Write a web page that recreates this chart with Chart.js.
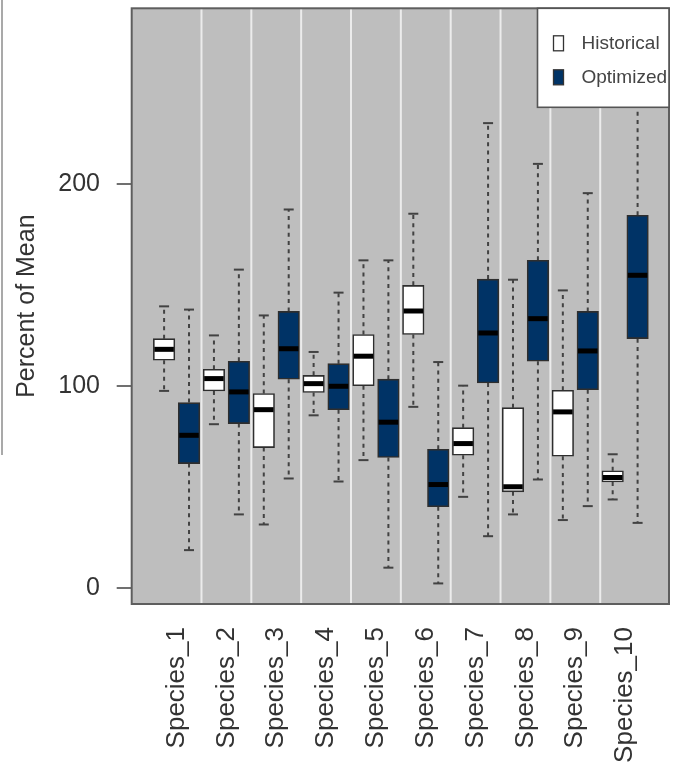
<!DOCTYPE html>
<html>
<head>
<meta charset="utf-8">
<script src="https://cdn.jsdelivr.net/npm/chart.js@4.4.1/dist/chart.umd.min.js"></script>
<style>
  html, body { margin: 0; padding: 0; background: #ffffff; }
  #wrap { position: relative; width: 677px; height: 764px; overflow: hidden; }
  #wrap canvas { position: absolute; left: 0; top: 0; }
  #edge { position: absolute; left: 1px; top: 0; width: 2px; height: 455px; background: #a9a9a9; }
</style>
</head>
<body>
<div id="wrap">
  <canvas id="chart" width="677" height="764"></canvas>
  <div id="edge"></div>
</div>
<script>
// Categories
const species = ['Species_1', 'Species_2', 'Species_3', 'Species_4', 'Species_5',
                 'Species_6', 'Species_7', 'Species_8', 'Species_9', 'Species_10'];

// Historical: whisker ends, quartiles and medians (percent of mean)
const histLow  = [97.7, 81.2, 31.5, 85.6, 63.4, 89.8, 45.2, 36.5, 33.7, 43.9];
const histQ1   = [112.9, 97.7, 69.6, 96.9, 100.3, 125.7, 65.8, 47.7, 65.3, 52.6];
const histMed  = [118.3, 103.8, 88.4, 101.3, 114.9, 137.3, 71.6, 50.2, 87.3, 54.8];
const histQ3   = [123.6, 108.4, 96.4, 105.4, 125.6, 150.0, 79.5, 89.4, 98.0, 58.1];
const histHigh = [139.6, 125.2, 135.1, 117.0, 162.4, 185.5, 100.3, 152.8, 147.5, 66.3];

// Optimized: whisker ends, quartiles and medians (percent of mean)
const optLow  = [18.8, 36.5, 54.3, 52.8, 10.1, 2.3, 25.7, 53.8, 40.6, 32.3];
const optQ1   = [61.7, 81.5, 103.5, 88.4, 64.7, 40.3, 101.6, 112.4, 98.3, 123.6];
const optMed  = [75.7, 97.2, 118.6, 100.0, 82.2, 51.3, 126.4, 133.5, 117.5, 155.0];
const optQ3   = [91.9, 112.4, 137.1, 111.2, 103.5, 68.8, 153.1, 162.4, 137.1, 184.7];
const optHigh = [138.0, 157.8, 187.6, 146.4, 162.4, 112.0, 230.4, 210.2, 195.7, 274.0];

// Axis ticks
const yTicks = [0, 100, 200];

const FONT = "'Liberation Sans', Arial, Helvetica, sans-serif";
const BOX_W = 21.5;     // box width in px
const SHIFT = 0.25;     // offset of each box from its species position
const CAP_W = 10;       // whisker cap width in px

const series = [
  { label: 'Historical', fill: '#ffffff', low: histLow, q1: histQ1, med: histMed, q3: histQ3, high: histHigh, shift: -SHIFT },
  { label: 'Optimized',  fill: '#003366', low: optLow,  q1: optQ1,  med: optMed,  q3: optQ3,  high: optHigh,  shift:  SHIFT }
];

// Whiskers, medians, panel background, separators and legend
const boxplotParts = {
  id: 'boxplotParts',
  beforeDatasetsDraw(chart) {
    const { ctx, chartArea: a, scales: { x, y } } = chart;
    ctx.save();
    ctx.fillStyle = '#bebebe';
    ctx.fillRect(a.left, a.top, a.right - a.left, a.bottom - a.top);

    // light separators between species
    ctx.strokeStyle = '#ececec';
    ctx.lineWidth = 2;
    for (let i = 1; i < species.length; i++) {
      const px = x.getPixelForValue(i + 0.5);
      ctx.beginPath();
      ctx.moveTo(px, a.top);
      ctx.lineTo(px, a.bottom);
      ctx.stroke();
    }

    // dashed whiskers
    ctx.strokeStyle = '#424242';
    ctx.lineWidth = 2;
    ctx.setLineDash([4, 4.3]);
    series.forEach(s => {
      s.q1.forEach((_, i) => {
        const px = x.getPixelForValue(i + 1 + s.shift);
        ctx.beginPath();
        ctx.moveTo(px, y.getPixelForValue(s.q3[i]));
        ctx.lineTo(px, y.getPixelForValue(s.high[i]));
        ctx.moveTo(px, y.getPixelForValue(s.q1[i]));
        ctx.lineTo(px, y.getPixelForValue(s.low[i]));
        ctx.stroke();
      });
    });
    ctx.setLineDash([]);

    // whisker caps
    ctx.lineWidth = 2;
    series.forEach(s => {
      s.q1.forEach((_, i) => {
        const px = x.getPixelForValue(i + 1 + s.shift);
        [s.high[i], s.low[i]].forEach(v => {
          const py = y.getPixelForValue(v);
          ctx.beginPath();
          ctx.moveTo(px - CAP_W / 2, py);
          ctx.lineTo(px + CAP_W / 2, py);
          ctx.stroke();
        });
      });
    });
    ctx.restore();
  },
  afterDatasetsDraw(chart) {
    const { ctx, chartArea: a, scales: { x, y } } = chart;
    ctx.save();

    // medians
    ctx.strokeStyle = '#000000';
    ctx.lineWidth = 5;
    series.forEach(s => {
      s.med.forEach((m, i) => {
        const px = x.getPixelForValue(i + 1 + s.shift);
        const py = y.getPixelForValue(m);
        ctx.beginPath();
        ctx.moveTo(px - BOX_W / 2 + 1, py);
        ctx.lineTo(px + BOX_W / 2 - 1, py);
        ctx.stroke();
      });
    });

    // panel border
    ctx.strokeStyle = '#5e5e5e';
    ctx.lineWidth = 2;
    ctx.strokeRect(a.left, a.top, a.right - a.left, a.bottom - a.top);

    // legend in the top-right corner
    const lw = 131.5, lh = 99;
    const lx = a.right - lw, ly = a.top;
    ctx.fillStyle = '#ffffff';
    ctx.fillRect(lx, ly, lw, lh);
    ctx.strokeStyle = '#555555';
    ctx.lineWidth = 1.6;
    ctx.strokeRect(lx, ly, lw, lh);

    ctx.font = '19px ' + FONT;
    ctx.textBaseline = 'middle';
    ctx.textAlign = 'left';
    series.forEach((s, k) => {
      const cy = ly + 35 + k * 34;
      ctx.fillStyle = s.fill;
      ctx.fillRect(lx + 16, cy - 7.5, 10, 15);
      ctx.strokeStyle = '#333333';
      ctx.lineWidth = 1.3;
      ctx.strokeRect(lx + 16, cy - 7.5, 10, 15);
      ctx.fillStyle = '#444444';
      ctx.fillText(s.label, lx + 44, cy);
    });
    ctx.restore();
  }
};

const datasets = series.map(s => ({
  label: s.label,
  data: species.map((_, i) => ({ x: i + 1 + s.shift, y: [s.q1[i], s.q3[i]] })),
  backgroundColor: s.fill,
  borderColor: '#2e2e2e',
  borderWidth: 1.6,
  borderSkipped: false,
  barThickness: BOX_W,
  grouped: false
}));

new Chart(document.getElementById('chart'), {
  type: 'bar',
  data: { datasets },
  options: {
    responsive: false,
    devicePixelRatio: 1,
    animation: false,
    events: [],
    layout: { padding: { top: 8.3, right: 8, left: 0, bottom: 0 } },
    plugins: { legend: { display: false }, tooltip: { enabled: false } },
    scales: {
      x: {
        type: 'linear',
        min: 0.1,
        max: 10.88,
        offset: false,
        grid: { display: false, drawTicks: false },
        border: { display: false },
        afterBuildTicks: s => { s.ticks = species.map((_, i) => ({ value: i + 1 })); },
        afterFit: s => { s.height = 160; s.paddingLeft = 0; s.paddingRight = 0; },
        ticks: {
          autoSkip: false,
          minRotation: 90,
          maxRotation: 90,
          padding: 23,
          color: '#333333',
          font: { family: FONT, size: 26 },
          callback: (v, i) => species[i]
        }
      },
      y: {
        type: 'linear',
        min: -7.9,
        max: 287.3,
        grid: { drawOnChartArea: false, drawTicks: true, tickLength: 15, color: '#707070', lineWidth: 2 },
        border: { display: false },
        afterBuildTicks: s => { s.ticks = yTicks.map(v => ({ value: v })); },
        afterFit: s => { s.width = 131.7; s.paddingTop = 0; s.paddingBottom = 0; },
        ticks: {
          padding: 16.7,
          color: '#333333',
          font: { family: FONT, size: 25 }
        },
        title: {
          display: true,
          text: 'Percent of Mean',
          color: '#333333',
          font: { family: FONT, size: 25 },
          padding: { top: 12, bottom: 0 }
        }
      }
    }
  },
  plugins: [boxplotParts]
});
</script>
</body>
</html>
